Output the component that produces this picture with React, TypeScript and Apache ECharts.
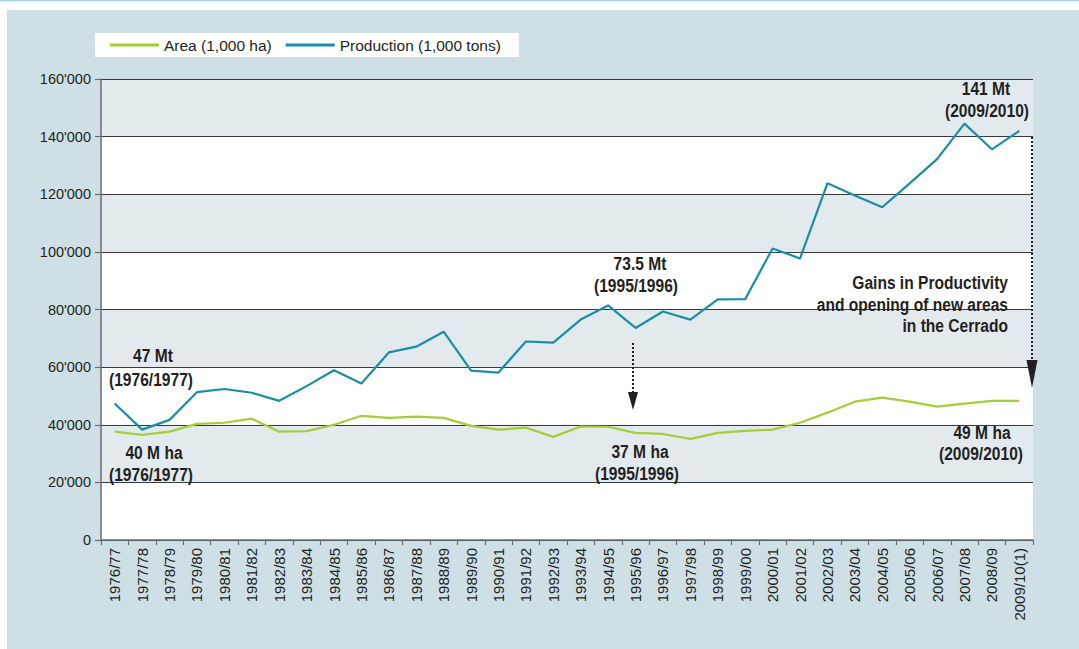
import React, { useEffect, useRef } from 'react';
import * as echarts from 'echarts';

const categories = [
  '1976/77', '1977/78', '1978/79', '1979/80', '1980/81', '1981/82', '1982/83', '1983/84',
  '1984/85', '1985/86', '1986/87', '1987/88', '1988/89', '1989/90', '1990/91', '1991/92',
  '1992/93', '1993/94', '1994/95', '1995/96', '1996/97', '1997/98', '1998/99', '1999/00',
  '2000/01', '2001/02', '2002/03', '2003/04', '2004/05', '2005/06', '2006/07', '2007/08',
  '2008/09', '2009/10(1)',
];

const areaValues = [
  37600, 36500, 37600, 40300, 40700, 42100, 37600, 37800, 40000, 43100, 42400, 42800,
  42400, 39600, 38300, 39000, 35800, 39400, 39300, 37200, 36800, 35100, 37200, 37900,
  38300, 40700, 44200, 48000, 49400, 48000, 46300, 47300, 48300, 48300,
];

const productionValues = [
  47400, 38300, 41700, 51300, 52400, 51100, 48300, 53400, 58900, 54300, 65100, 67100,
  72300, 58800, 58100, 68900, 68500, 76500, 81400, 73600, 79300, 76500, 83500, 83600,
  101200, 97700, 123800, 119600, 115500, 123800, 132200, 144500, 135600, 142000,
];

const yTickLabels = ['0', "20'000", "40'000", "60'000", "80'000", "100'000", "120'000", "140'000", "160'000"];

const seriesNames = ['Area (1,000 ha)', 'Production (1,000 tons)'];

const FONT = "'Liberation Sans', Arial, sans-serif";

export default function App() {
  const ref = useRef<HTMLDivElement>(null);

  useEffect(() => {
    if (!ref.current) return;
    const chart = echarts.init(ref.current, undefined, { renderer: 'svg' });

    const bold = (text: string, x: number, y: number, align = 'center') => ({
      type: 'text',
      x,
      y,
      scaleX: 0.82,
      silent: true,
      z: 50,
      style: {
        text,
        fill: '#231f20',
        font: `bold 19px ${FONT}`,
        textAlign: align,
        textVerticalAlign: 'middle',
      },
    });

    const arrow = (x: number, y1: number, y2: number, headTop: number, headTip: number, half: number) => [
      {
        type: 'line',
        silent: true,
        z: 50,
        shape: { x1: x, y1, x2: x, y2 },
        style: { stroke: '#231f20', lineWidth: 2, lineDash: [2, 2] },
      },
      {
        type: 'polygon',
        silent: true,
        z: 50,
        shape: { points: [[x - half, headTop], [x + half, headTop], [x, headTip]] },
        style: { fill: '#231f20' },
      },
    ];

    chart.setOption({
      animation: false,
      backgroundColor: '#cfdfe6',
      textStyle: { fontFamily: FONT },
      legend: {
        left: 95,
        top: 33,
        backgroundColor: '#ffffff',
        padding: [4, 18, 4, 15],
        itemWidth: 49,
        itemHeight: 3,
        itemGap: 14,
        icon: 'rect',
        data: seriesNames,
        textStyle: { fontSize: 15.5, color: '#231f20', fontFamily: FONT },
      },
      grid: { left: 101, right: 46, top: 79, bottom: 109, containLabel: false },
      xAxis: {
        type: 'category',
        data: categories,
        boundaryGap: true,
        axisLine: { show: true, lineStyle: { color: '#6d6d6d', width: 1.5 } },
        axisTick: { show: true, length: 5, lineStyle: { color: '#6d6d6d', width: 1.2 } },
        axisLabel: { interval: 0, rotate: 90, fontSize: 15, color: '#231f20', margin: 8, fontFamily: FONT },
        splitLine: { show: false },
      },
      yAxis: {
        type: 'value',
        min: 0,
        max: 160000,
        interval: 20000,
        axisLine: { show: true, lineStyle: { color: '#6d6d6d', width: 1.5 } },
        axisTick: { show: true, length: 6, lineStyle: { color: '#6d6d6d', width: 1.2 } },
        axisLabel: {
          fontSize: 14.5,
          color: '#231f20',
          margin: 10,
          fontFamily: FONT,
          formatter: (v: number) => yTickLabels[Math.round(v / 20000)],
        },
        splitLine: { show: true, lineStyle: { color: '#3a3a3a', width: 1 } },
        splitArea: { show: true, areaStyle: { color: ['#ffffff', '#e2eaee'] } },
      },
      series: [
        {
          name: seriesNames[0],
          type: 'line',
          data: areaValues,
          showSymbol: false,
          symbol: 'none',
          lineStyle: { color: '#a5cd3a', width: 2.2 },
          itemStyle: { color: '#a5cd3a' },
          z: 5,
        },
        {
          name: seriesNames[1],
          type: 'line',
          data: productionValues,
          showSymbol: false,
          symbol: 'none',
          lineStyle: { color: '#1a8ea4', width: 2.2 },
          itemStyle: { color: '#1a8ea4' },
          z: 6,
        },
      ],
      graphic: [
        { type: 'rect', silent: true, z: -1, shape: { x: 0, y: 0, width: 1079, height: 10 }, style: { fill: '#ffffff' } },
        { type: 'rect', silent: true, z: -1, shape: { x: 0, y: 0, width: 7, height: 649 }, style: { fill: '#ffffff' } },
        { type: 'rect', silent: true, z: 0, shape: { x: 0, y: 0, width: 1079, height: 1.5 }, style: { fill: '#a9d5e1' } },
        bold('47 Mt', 153, 355),
        bold('(1976/1977)', 151, 379),
        bold('40 M ha', 154, 452),
        bold('(1976/1977)', 151, 474),
        bold('73.5 Mt', 640, 263),
        bold('(1995/1996)', 636, 285),
        bold('37 M ha', 640, 451),
        bold('(1995/1996)', 637, 473),
        bold('141 Mt', 986, 88),
        bold('(2009/2010)', 987, 110),
        bold('Gains in Productivity', 1008, 282, 'right'),
        bold('and opening of new areas', 1008, 304, 'right'),
        bold('in the Cerrado', 1008, 325, 'right'),
        bold('49 M ha', 982, 432),
        bold('(2009/2010)', 981, 453),
        ...arrow(633, 343, 396, 392, 410, 5),
        ...arrow(1032, 137, 362, 360, 388, 5.5),
      ],
    });

    return () => chart.dispose();
  }, []);

  return (
    <div
      ref={ref}
      style={{ position: 'absolute', left: 0, top: 0, width: 1079, height: 649 }}
    />
  );
}
